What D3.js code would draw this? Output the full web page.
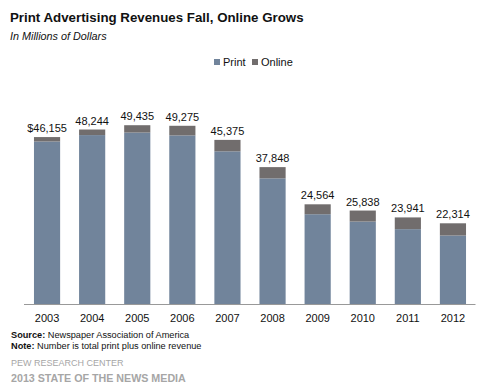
<!DOCTYPE html>
<html><head><meta charset="utf-8">
<script src="https://cdn.jsdelivr.net/npm/d3@7"></script>
<style>body{margin:0;background:#fff}svg{display:block;font-family:"Liberation Sans",Arial,sans-serif}</style>
</head><body>
<svg id="c" width="487" height="390"></svg>
<script>
const years = ["2003","2004","2005","2006","2007","2008","2009","2010","2011","2012"];
const printValues = [44939,46703,47408,46611,42209,34739,24821,22796,20692,18931];
const onlineValues = [1216,1541,2027,2664,3166,3109,2743,3042,3249,3383];
const totalLabels = ["$46,155","48,244","49,435","49,275","45,375","37,848","24,564","25,838","23,941","22,314"];
const seriesNames = ["Print","Online"];
const colors = {Print:"#71849b", Online:"#716d6d"};

const svg = d3.select("#c");
const data = years.map((y,i)=>({year:y, Print:printValues[i], Online:onlineValues[i], label:totalLabels[i]}));
const stack = d3.stack().keys(seriesNames)(data);

const x = d3.scaleBand().domain(years).range([24.5,475.5]).paddingInner(0.42).paddingOuter(0.21);
const y = d3.scaleLinear().domain([0,60000]).range([304,87]);

svg.append("g").selectAll("g").data(stack).join("g")
  .attr("fill",d=>colors[d.key])
  .selectAll("rect").data(d=>d).join("rect")
  .attr("x",d=>x(d.data.year)).attr("width",x.bandwidth())
  .attr("y",d=>y(d[1])).attr("height",d=>y(d[0])-y(d[1]));

svg.append("g").selectAll("text").data(data).join("text")
  .attr("x",d=>x(d.year)+x.bandwidth()/2)
  .attr("y",d=>y(d.Print+d.Online)-5)
  .attr("text-anchor","middle").attr("font-size","11px").attr("fill","#111")
  .text(d=>d.label);

const xAxis = svg.append("g").attr("transform","translate(0,304)")
  .call(d3.axisBottom(x).tickSize(0).tickPadding(10));
xAxis.select(".domain").attr("stroke","#999").attr("d","M24,0.5H475.5");
xAxis.selectAll("text").attr("font-size","11px").attr("fill","#111")
  .attr("font-family","Liberation Sans, Arial, sans-serif");

svg.append("text").attr("x",10).attr("y",22).attr("font-size","13.3px").attr("font-weight","bold").attr("fill","#111")
  .text("Print Advertising  Revenues  Fall, Online Grows");
svg.append("text").attr("x",10).attr("y",40).attr("font-size","10.8px").attr("font-style","italic").attr("fill","#111")
  .text("In Millions of Dollars");

const leg = svg.append("g");
const legX = [214,252];
seriesNames.forEach((s,i)=>{
  leg.append("rect").attr("x",legX[i]).attr("y",59).attr("width",6).attr("height",6).attr("fill",colors[s]);
  leg.append("text").attr("x",legX[i]+9).attr("y",66).attr("font-size","11px").attr("fill","#111").text(s);
});

const src = svg.append("text").attr("x",11).attr("y",338).attr("font-size","9.2px").attr("fill","#111");
src.append("tspan").attr("font-weight","bold").text("Source:");
src.append("tspan").text(" Newspaper Association of America");
const note = svg.append("text").attr("x",11).attr("y",349).attr("font-size","9.2px").attr("fill","#111");
note.append("tspan").attr("font-weight","bold").text("Note:");
note.append("tspan").text(" Number is total print plus online  revenue");

svg.append("text").attr("x",11).attr("y",366).attr("font-size","9px").attr("fill","#a6a6a6").text("PEW RESEARCH CENTER");
svg.append("text").attr("x",11).attr("y",382).attr("font-size","10.7px").attr("font-weight","bold").attr("fill","#a6a6a6").text("2013 STATE OF THE NEWS MEDIA");
</script>
</body></html>
